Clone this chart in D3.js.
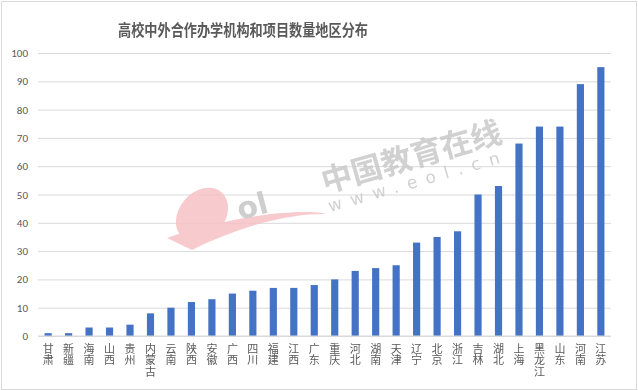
<!DOCTYPE html>
<html>
<head>
<meta charset="utf-8">
<script src="https://cdn.jsdelivr.net/npm/d3@7"></script>
<style>
  body { margin: 0; background: #fff; }
  svg { display: block; font-family: "Microsoft YaHei", "Noto Sans CJK SC", sans-serif; }
</style>
</head>
<body>
<svg id="chart"></svg>
<script>
const regions = ["甘肃", "新疆", "海南", "山西", "贵州", "内蒙古", "云南", "陕西", "安徽", "广西",
  "四川", "福建", "江西", "广东", "重庆", "河北", "湖南", "天津", "辽宁", "北京",
  "浙江", "吉林", "湖北", "上海", "黑龙江", "山东", "河南", "江苏"];
const counts = [1, 1, 3, 3, 4, 8, 10, 12, 13, 15,
  16, 17, 17, 18, 20, 23, 24, 25, 33, 35,
  37, 50, 53, 68, 74, 74, 89, 95];
const yTicks = [0, 10, 20, 30, 40, 50, 60, 70, 80, 90, 100];

const width = 638;
const height = 390;
const margin = { top: 53, right: 27, bottom: 54, left: 38 };

const svg = d3.select("#chart")
  .attr("width", width)
  .attr("height", height);

// outer frame
svg.append("rect")
  .attr("x", 1.5).attr("y", 1.5)
  .attr("width", width - 3).attr("height", height - 2)
  .attr("fill", "#fff")
  .attr("stroke", "#d9d9d9");

const x = d3.scaleBand()
  .domain(regions)
  .range([margin.left, width - margin.right])
  .paddingInner(0.65)
  .paddingOuter(0.32);

const y = d3.scaleLinear()
  .domain([0, 100])
  .range([height - margin.bottom, margin.top]);

// gridlines + y labels
const yAxis = svg.append("g")
  .attr("transform", `translate(${margin.left},0)`)
  .call(d3.axisLeft(y).tickValues(yTicks).tickSize(-(width - margin.left - margin.right)).tickPadding(10));
yAxis.select(".domain").remove();
yAxis.selectAll(".tick line").attr("stroke", "#d9d9d9");
yAxis.selectAll(".tick text")
  .attr("fill", "#595959")
  .style("font-size", "11px")
  .style("font-family", "Calibri, Carlito, 'Liberation Sans', sans-serif");

// watermark
const wm = svg.append("g").attr("opacity", 0.85);
wm.append("ellipse")
  .attr("cx", 202).attr("cy", 215)
  .attr("rx", 23).attr("ry", 30)
  .attr("transform", "rotate(40,202,215)")
  .attr("fill", "#f6c1c6");
wm.append("path")
  .attr("d", "M167,238 C230,216 300,208 327,214 C290,213 240,226 192,250 Z")
  .attr("fill", "#f6c1c6");
wm.append("text")
  .attr("x", 240).attr("y", 220)
  .attr("transform", "rotate(-15,240,220)")
  .attr("fill", "#c6c6c6")
  .style("font-size", "30px")
  .style("font-weight", "bold")
  .style("font-family", "'DejaVu Sans', sans-serif")
  .text("ol");
wm.append("text")
  .attr("x", 325).attr("y", 193)
  .attr("transform", "rotate(-16,325,193)")
  .attr("fill", "#c9c9c9")
  .style("font-size", "31px")
  .style("font-weight", "bold")
  .text("中国教育在线");
wm.append("text")
  .attr("x", 330).attr("y", 212)
  .attr("transform", "rotate(-16,330,212)")
  .attr("fill", "#c9c9c9")
  .style("font-size", "17px")
  .style("letter-spacing", "9px")
  .style("font-family", "'DejaVu Sans', sans-serif")
  .text("www.eol.cn");

// bars
svg.append("g")
  .selectAll("rect")
  .data(counts)
  .join("rect")
  .attr("x", (d, i) => x(regions[i]))
  .attr("y", d => y(d))
  .attr("width", x.bandwidth())
  .attr("height", d => y(0) - y(d))
  .attr("fill", "#4472c4");

// x axis line
svg.append("line")
  .attr("x1", margin.left).attr("x2", width - margin.right)
  .attr("y1", y(0)).attr("y2", y(0))
  .attr("stroke", "#d9d9d9");

// vertical category labels, one char per row
svg.append("g")
  .selectAll("text")
  .data(regions)
  .join("text")
  .attr("x", d => x(d) + x.bandwidth() / 2)
  .attr("y", y(0) + 7)
  .attr("fill", "#595959")
  .style("writing-mode", "vertical-rl")
  .style("text-orientation", "upright")
  .style("letter-spacing", "0.6px")
  .style("font-size", "11px")
  .text(d => d);

// title
svg.append("text")
  .attr("x", 118).attr("y", 36)
  .attr("textLength", 250)
  .attr("lengthAdjust", "spacingAndGlyphs")
  .attr("fill", "#595959")
  .style("font-size", "15.5px")
  .style("font-weight", "bold")
  .text("高校中外合作办学机构和项目数量地区分布");
</script>
</body>
</html>
